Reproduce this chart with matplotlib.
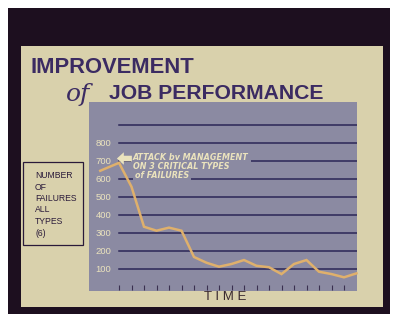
import matplotlib
matplotlib.use("Agg")
import matplotlib.pyplot as plt
from matplotlib.patches import Rectangle

# datos
periodos = [-1.5, 0, 1, 2, 3, 4, 5, 6, 7, 8, 9, 10, 11, 12, 13, 14, 15, 16, 17, 18, 19]
fallas = [646, 690, 557, 335, 313, 330, 313, 167, 135, 113, 128, 150, 118, 110, 72, 128, 150, 85, 72, 54, 76]
niveles = [100, 200, 300, 400, 500, 600, 700, 800, 900]
etiquetas_y = ["100", "200", "300", "400", "500", "600", "700", "800"]
marcas_x = list(range(19))
nota = ["ATTACK by MANAGEMENT", "ON 3 CRITICAL TYPES", "of FAILURES"]
caja = ["NUMBER", "OF", "FAILURES", "ALL", "TYPES", "(6)"]

W, H = 400, 322
oscuro = "#1d0f1f"
crema = "#d9d1ac"
fondo = "#8b8aa2"
morado = "#3b2b62"
claro = "#ebe3bd"
naranja = "#dfb06c"

fig = plt.figure(figsize=(4, 3.22), dpi=100, facecolor="white")

def fx(px):
    return px / W

def fy(py):
    return 1 - py / H

# marco oscuro y panel crema (detras de los ejes)
fig.patches.append(Rectangle((fx(8), fy(314)), fx(390) - fx(8), fy(8) - fy(314),
                             transform=fig.transFigure, facecolor=oscuro, edgecolor="none",
                             zorder=-3))
fig.patches.append(Rectangle((fx(21), fy(307)), fx(383) - fx(21), fy(46) - fy(307),
                             transform=fig.transFigure, facecolor=crema, edgecolor="none",
                             zorder=-2))

# titulos
fig.text(fx(31), fy(73), "IMPROVEMENT", family="Liberation Sans", weight="bold",
         fontsize=15.8, color=morado, va="baseline")
fig.text(fx(109), fy(99), "JOB PERFORMANCE", family="Liberation Sans", weight="bold",
         fontsize=15.2, color=morado, va="baseline")
fig.text(fx(66), fy(101), "of", family="DejaVu Serif", style="italic",
         fontsize=18, color=morado, va="baseline")

# caja de la izquierda
fig.patches.append(Rectangle((fx(23), fy(245)), fx(83) - fx(23), fy(162) - fy(245),
                             transform=fig.transFigure, facecolor="none",
                             edgecolor="#2a1a3a", linewidth=0.9))
for i, t in enumerate(caja):
    fig.text(fx(35), fy(178 + i * 11.5), t, family="Liberation Sans",
             fontsize=6.2, color="#2a1a3a", va="baseline")

# area de la grafica
ax = fig.add_axes([fx(89), fy(291), fx(357) - fx(89), fy(102) - fy(291)])
ax.set_facecolor(fondo)
ax.set_xlim(-2.4, 19.04)
ax.set_ylim(-22, 1028)
for s in ax.spines.values():
    s.set_visible(False)
ax.set_xticks([])
ax.set_yticks([])

for v in niveles:
    ax.axhline(v, xmin=0.112, xmax=1, color="#2b2657", linewidth=1.1, zorder=1)

for i, t in enumerate(etiquetas_y):
    ax.text(0.054, niveles[i], t, transform=ax.get_yaxis_transform(), ha="center",
            va="center", fontsize=6.8, color=claro, family="Liberation Sans", zorder=4)

ax.vlines(marcas_x, 0.005, 0.03, transform=ax.get_xaxis_transform(),
          color="#3a3050", linewidth=0.8, zorder=2)

ax.plot(periodos, fallas, color=naranja, linewidth=1.8, zorder=3, clip_on=False,
        solid_joinstyle="miter")

# nota con flecha
ys = [0.706, 0.660, 0.613]
xs = [0.164, 0.164, 0.170]
for i, t in enumerate(nota):
    ax.text(xs[i], ys[i], t, transform=ax.transAxes, fontsize=5.8, style="italic",
            weight="bold", color=claro, family="DejaVu Sans", va="center",
            bbox=dict(facecolor=fondo, edgecolor="none", pad=1.4), zorder=2.5)
ax.annotate("", xy=(0.104, 0.701), xytext=(0.160, 0.701), xycoords="axes fraction",
            arrowprops=dict(arrowstyle="simple,head_width=0.9,head_length=0.5,tail_width=0.4",
                            fc=claro, ec="none", shrinkA=0, shrinkB=0), zorder=4)

fig.text(fx(225), fy(297), "T I M E", family="Liberation Sans", fontsize=9.5,
         color="#3a2a30", ha="center", va="center")

fig.savefig("out.png", dpi=100, facecolor="white")
